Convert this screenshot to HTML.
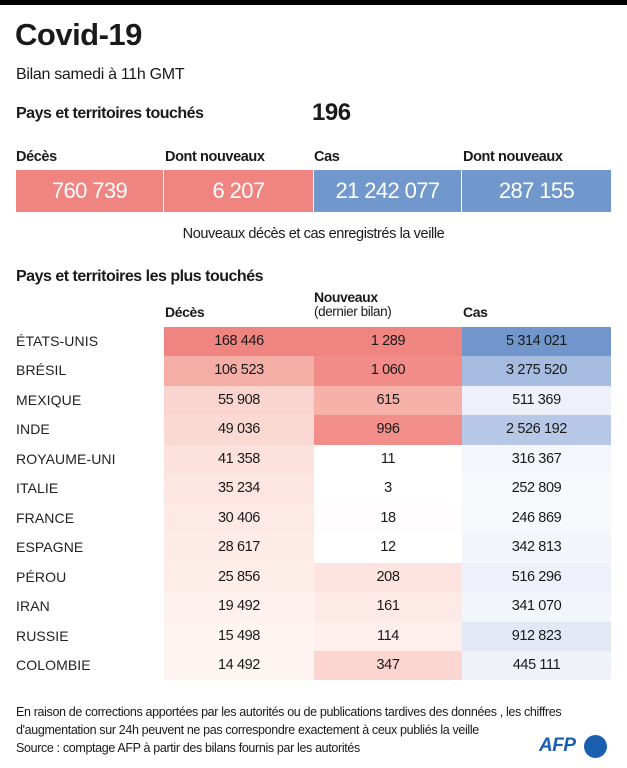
<!DOCTYPE html>
<html><head><meta charset="utf-8"><style>
*{margin:0;padding:0;box-sizing:border-box}
body{width:627px;height:768px;background:#fff;font-family:"Liberation Sans",sans-serif;color:#1a1a1a;position:relative;overflow:hidden}
.a{position:absolute;white-space:nowrap}
.topbar{left:0;top:0;width:627px;height:5px;background:#000}
.box{position:absolute;top:170px;height:42px;color:#fff;font-size:22px;text-align:center;line-height:42px;letter-spacing:-0.6px}
.cell{position:absolute;height:29.5px;line-height:29.5px;text-align:center;font-size:14.5px;letter-spacing:-0.4px}
.lab{position:absolute;left:16px;height:29.5px;line-height:29.5px;font-size:14px;letter-spacing:0.1px;color:#222}
</style></head><body>
<div class="a topbar"></div>
<div class="a" style="left:15px;top:17px;font-size:31px;font-weight:bold;letter-spacing:-0.5px">Covid-19</div>
<div class="a" style="left:16px;top:66px;font-size:16px;letter-spacing:-0.3px">Bilan samedi à 11h GMT</div>
<div class="a" style="left:16px;top:105px;font-size:16px;font-weight:bold;letter-spacing:-0.5px">Pays et territoires touchés</div>
<div class="a" style="left:312px;top:99px;font-size:24px;font-weight:bold;letter-spacing:-0.5px">196</div>
<div class="a" style="left:16px;top:149px;font-size:14.5px;font-weight:bold;letter-spacing:-0.4px">Décès</div>
<div class="a" style="left:165px;top:149px;font-size:14.5px;font-weight:bold;letter-spacing:-0.4px">Dont nouveaux</div>
<div class="a" style="left:314px;top:149px;font-size:14.5px;font-weight:bold;letter-spacing:-0.4px">Cas</div>
<div class="a" style="left:463px;top:149px;font-size:14.5px;font-weight:bold;letter-spacing:-0.4px">Dont nouveaux</div>
<div class="box" style="left:16px;width:147px;background:#f08480">760 739</div>
<div class="box" style="left:164px;width:149px;background:#f08480">6 207</div>
<div class="box" style="left:314px;width:147px;background:#7198cc">21 242 077</div>
<div class="box" style="left:462px;width:149px;background:#7198cc">287 155</div>
<div class="a" style="left:0;width:627px;text-align:center;top:226px;font-size:14.5px;letter-spacing:-0.4px">Nouveaux décès et cas enregistrés la veille</div>
<div class="a" style="left:16px;top:268px;font-size:16px;font-weight:bold;letter-spacing:-0.5px">Pays et territoires les plus touchés</div>
<div class="a" style="left:165px;top:304px;font-size:14px;font-weight:bold;letter-spacing:-0.4px">Décès</div>
<div class="a" style="left:314px;top:289px;font-size:14px;font-weight:bold;letter-spacing:-0.4px">Nouveaux</div>
<div class="a" style="left:314px;top:304px;font-size:13.5px;letter-spacing:-0.4px">(dernier bilan)</div>
<div class="a" style="left:463px;top:304px;font-size:14px;font-weight:bold;letter-spacing:-0.4px">Cas</div>
<div id="t"></div>
<script>
var rows=[
["ÉTATS-UNIS","168 446","#f08481","1 289","#f08481","5 314 021","#7096cc"],
["BRÉSIL","106 523","#f5aea6","1 060","#f28c88","3 275 520","#a5bbe0"],
["MEXIQUE","55 908","#fad5cf","615","#f6b1a9","511 369","#eef1f9"],
["INDE","49 036","#fbd9d3","996","#f28e8a","2 526 192","#b7c8e6"],
["ROYAUME-UNI","41 358","#fce1dc","11","#ffffff","316 367","#f4f6fb"],
["ITALIE","35 234","#fde5e1","3","#ffffff","252 809","#f6f8fc"],
["FRANCE","30 406","#fde9e6","18","#fffdfd","246 869","#f6f8fc"],
["ESPAGNE","28 617","#fdebe8","12","#ffffff","342 813","#f3f5fb"],
["PÉROU","25 856","#fdede9","208","#fde3df","516 296","#eef1f9"],
["IRAN","19 492","#fef1ee","161","#fde9e6","341 070","#f3f5fb"],
["RUSSIE","15 498","#fef4f2","114","#feefec","912 823","#e2e8f4"],
["COLOMBIE","14 492","#fef5f3","347","#fbd5cf","445 111","#eff2f9"]];
var h="";
rows.forEach(function(r,i){var y=327+i*29.45;
h+='<div class="lab" style="top:'+y+'px">'+r[0]+'</div>';
h+='<div class="cell" style="top:'+y+'px;left:164px;width:150px;background:'+r[2]+'">'+r[1]+'</div>';
h+='<div class="cell" style="top:'+y+'px;left:314px;width:148px;background:'+r[4]+'">'+r[3]+'</div>';
h+='<div class="cell" style="top:'+y+'px;left:462px;width:149px;background:'+r[6]+'">'+r[5]+'</div>';});
document.getElementById("t").innerHTML=h;
</script>
<div class="a" style="left:16px;top:703px;font-size:12.5px;letter-spacing:-0.35px;line-height:18px">En raison de corrections apportées par les autorités ou de publications tardives des données , les chiffres<br>d'augmentation sur 24h peuvent ne pas correspondre exactement à ceux publiés la veille<br>Source : comptage AFP à partir des bilans fournis par les autorités</div>
<div class="a" style="left:539px;top:735px;font-size:19px;font-weight:bold;font-style:italic;color:#1b5fb0;letter-spacing:-0.5px">AFP</div>
<div class="a" style="left:584px;top:735px;width:23px;height:23px;border-radius:50%;background:#1b5fb0"></div>
</body></html>
